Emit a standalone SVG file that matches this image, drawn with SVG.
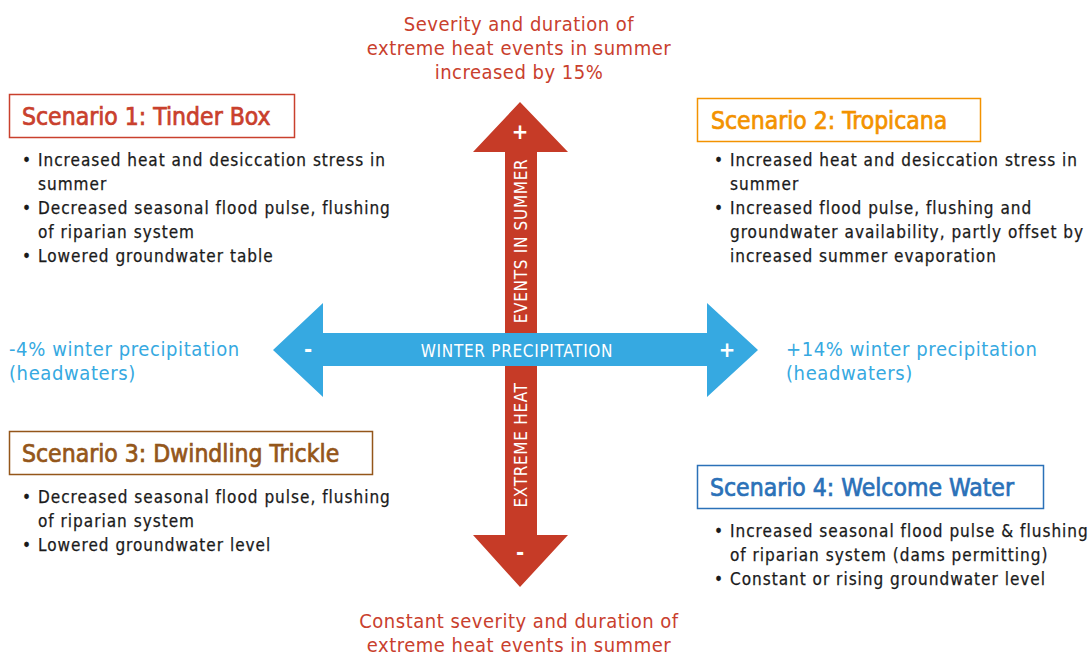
<svg xmlns="http://www.w3.org/2000/svg" width="1090" height="655" viewBox="0 0 1090 655">
  <style>
    text { font-family: "DejaVu Sans Condensed", "Liberation Sans Narrow", "DejaVu Sans", sans-serif; }
    .red { fill: #c9402d; font-size: 20px; letter-spacing: 0.5px; }
    .blue { fill: #36a9e1; font-size: 20px; letter-spacing: 0.6px; }
    .body { fill: #1a1a1a; stroke: #1a1a1a; stroke-width: 0.25px; font-size: 17px; letter-spacing: 1px; }
    .head { font-size: 24.5px; stroke-width: 0.7px; }
    .axis { fill: #ffffff; font-size: 17px; letter-spacing: 0.7px; }
    .sign { fill: #ffffff; font-size: 22px; font-weight: bold; }
    .box { fill: #ffffff; stroke-width: 1.5; }
  </style>

  <!-- axis arrows -->
  <g id="connectors">
    <!-- vertical: extreme heat events in summer -->
    <path id="heat-axis" d="M520,102 L568,152 L537,152 L537,535 L568,535 L520,587 L473,535 L505,535 L505,152 L473,152 Z" fill="#c63b27"/>
    <!-- horizontal: winter precipitation -->
    <path id="precip-axis" d="M273,350 L323,303 L323,333 L707,333 L707,303 L758,350 L707,397 L707,366 L323,366 L323,397 Z" fill="#36a9e1"/>
    <text class="axis" x="517" y="357" text-anchor="middle">WINTER PRECIPITATION</text>
    <text class="sign" x="308" y="357" text-anchor="middle">-</text>
    <text class="sign" x="727" y="357" text-anchor="middle">+</text>
    <text class="sign" x="520" y="139" text-anchor="middle">+</text>
    <text class="sign" x="520" y="560" text-anchor="middle">-</text>
    <text class="axis" transform="translate(527,241) rotate(-90)" text-anchor="middle">EVENTS IN SUMMER</text>
    <text class="axis" transform="translate(527,445) rotate(-90)" text-anchor="middle">EXTREME HEAT</text>
  </g>

  <!-- axis end labels -->
  <g id="label-top">
    <text class="red" x="519" y="31" text-anchor="middle">Severity and duration of</text>
    <text class="red" x="519" y="55" text-anchor="middle">extreme heat events in summer</text>
    <text class="red" x="519" y="79" text-anchor="middle">increased by 15%</text>
  </g>
  <g id="label-bottom">
    <text class="red" x="519" y="628" text-anchor="middle">Constant severity and duration of</text>
    <text class="red" x="519" y="652" text-anchor="middle">extreme heat events in summer</text>
  </g>
  <g id="label-left">
    <text class="blue" x="9" y="356">-4% winter precipitation</text>
    <text class="blue" x="9" y="380">(headwaters)</text>
  </g>
  <g id="label-right">
    <text class="blue" x="786" y="356">+14% winter precipitation</text>
    <text class="blue" x="786" y="380">(headwaters)</text>
  </g>

  <!-- scenario 1 -->
  <g id="scenario-1">
    <rect class="box" x="9.5" y="94.5" width="285" height="43" stroke="#c9402d"/>
    <text class="head" x="22" y="125" fill="#c9402d" stroke="#c9402d">Scenario 1: Tinder Box</text>
    <g class="body">
      <text x="22" y="166">•</text><text x="38" y="166">Increased heat and desiccation stress in</text>
      <text x="38" y="190">summer</text>
      <text x="22" y="214">•</text><text x="38" y="214">Decreased seasonal flood pulse, flushing</text>
      <text x="38" y="238">of riparian system</text>
      <text x="22" y="262">•</text><text x="38" y="262">Lowered groundwater table</text>
    </g>
  </g>

  <!-- scenario 2 -->
  <g id="scenario-2">
    <rect class="box" x="697.5" y="98.5" width="283" height="43" stroke="#f39200"/>
    <text class="head" x="711" y="129" fill="#f39200" stroke="#f39200">Scenario 2: Tropicana</text>
    <g class="body">
      <text x="714" y="166">•</text><text x="730" y="166">Increased heat and desiccation stress in</text>
      <text x="730" y="190">summer</text>
      <text x="714" y="214">•</text><text x="730" y="214">Increased flood pulse, flushing and</text>
      <text x="730" y="238">groundwater availability, partly offset by</text>
      <text x="730" y="262">increased summer evaporation</text>
    </g>
  </g>

  <!-- scenario 3 -->
  <g id="scenario-3">
    <rect class="box" x="9.5" y="431.5" width="363" height="43" stroke="#94561a"/>
    <text class="head" x="22" y="462" fill="#94561a" stroke="#94561a">Scenario 3: Dwindling Trickle</text>
    <g class="body">
      <text x="22" y="503">•</text><text x="38" y="503">Decreased seasonal flood pulse, flushing</text>
      <text x="38" y="527">of riparian system</text>
      <text x="22" y="551">•</text><text x="38" y="551">Lowered groundwater level</text>
    </g>
  </g>

  <!-- scenario 4 -->
  <g id="scenario-4">
    <rect class="box" x="697.5" y="465.5" width="346" height="43" stroke="#2b71b8"/>
    <text class="head" x="710" y="496" fill="#2b71b8" stroke="#2b71b8">Scenario 4: Welcome Water</text>
    <g class="body">
      <text x="714" y="537">•</text><text x="730" y="537">Increased seasonal flood pulse &amp; flushing</text>
      <text x="730" y="561">of riparian system (dams permitting)</text>
      <text x="714" y="585">•</text><text x="730" y="585">Constant or rising groundwater level</text>
    </g>
  </g>
</svg>
